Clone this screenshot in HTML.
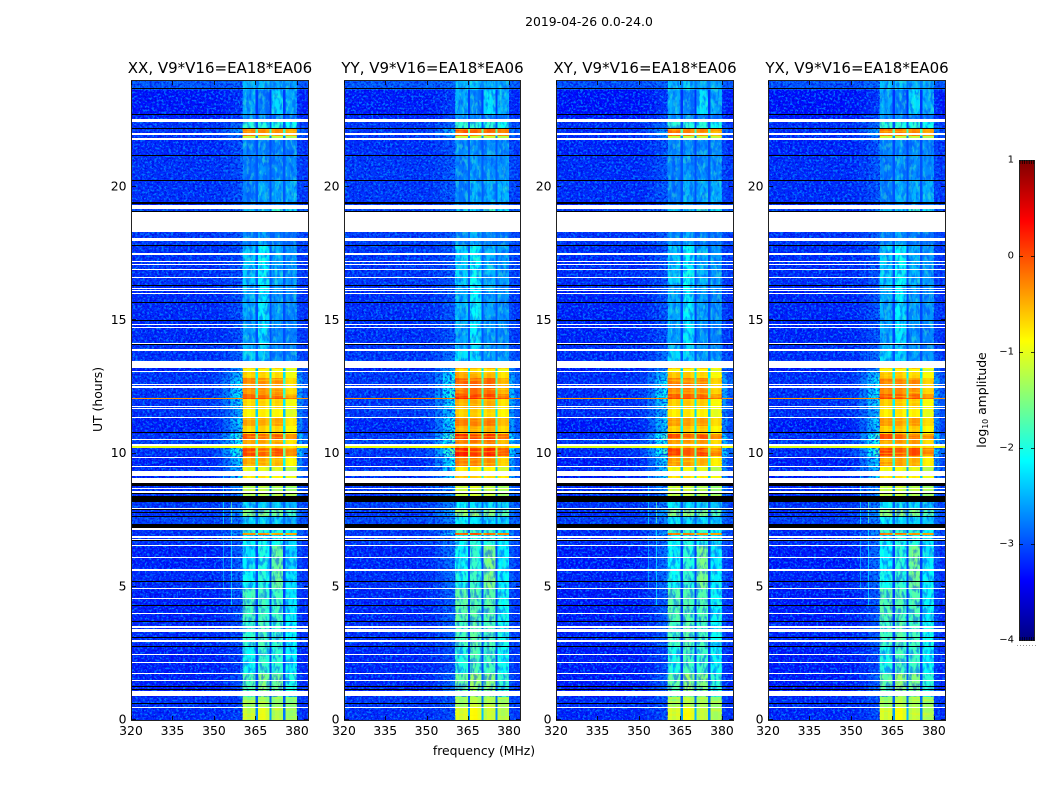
<!DOCTYPE html>
<html lang="en">
<head>
<meta charset="utf-8">
<title>2019-04-26 0.0-24.0</title>
<style>
html,body{margin:0;padding:0;background:#fff;width:1050px;height:800px;overflow:hidden}
svg{display:block}
text{font-family:"DejaVu Sans","Liberation Sans",sans-serif;fill:#000}
</style>
</head>
<body>
<svg id="chart" xmlns="http://www.w3.org/2000/svg" width="1050" height="800" viewBox="0 0 1050 800">
<defs>
<filter id="speckle-light" x="0" y="0" width="100%" height="100%" color-interpolation-filters="sRGB">
<feTurbulence type="fractalNoise" baseFrequency="0.42 0.5" numOctaves="2" seed="3"/>
<feColorMatrix values="0 0 0 0 0  0 0 0 0 0.55  0 0 0 0 1  8 0 0 0 -4"/>
</filter>
<filter id="speckle-dark" x="0" y="0" width="100%" height="100%" color-interpolation-filters="sRGB">
<feTurbulence type="fractalNoise" baseFrequency="0.42 0.5" numOctaves="2" seed="11"/>
<feColorMatrix values="0 0 0 0 0  0 0 0 0 0  0 0 0 0 0.85  0 8 0 0 -4"/>
</filter>
<filter id="band-dark" x="0" y="0" width="100%" height="100%" color-interpolation-filters="sRGB">
<feTurbulence type="fractalNoise" baseFrequency="0.3 0.12" numOctaves="3" seed="7"/>
<feColorMatrix values="0 0 0 0 0  0 0 0 0 0.3  0 0 0 0 1  5 0 0 0 -2.3"/>
</filter>
<filter id="band-light" x="0" y="0" width="100%" height="100%" color-interpolation-filters="sRGB">
<feTurbulence type="fractalNoise" baseFrequency="0.32 0.14" numOctaves="3" seed="23"/>
<feColorMatrix values="0 0 0 0 0.25  0 0 0 0 1  0 0 0 0 0.75  0 5 0 0 -2.6"/>
</filter>
<filter id="band-stripe" x="0" y="0" width="100%" height="100%" color-interpolation-filters="sRGB">
<feTurbulence type="fractalNoise" baseFrequency="0.03 0.55" numOctaves="2" seed="5"/>
<feColorMatrix values="0 0 0 0 1  0 0 0 0 0.95  0 0 0 0 0  6 0 0 0 -3.1"/>
</filter>
</defs>
<text x="589" y="26" font-size="12.4" text-anchor="middle">2019-04-26 0.0-24.0</text>
<text x="0" y="0" font-size="12.4" text-anchor="middle" transform="translate(102,399.5) rotate(-90)">UT (hours)</text>
<text x="484" y="755" font-size="12.4" text-anchor="middle">frequency (MHz)</text>
<text x="0" y="0" font-size="12.4" text-anchor="middle" transform="translate(986,400) rotate(-90)">log<tspan font-size="7.8" dy="2">10</tspan><tspan dy="-2"> amplitude</tspan></text>
<g id="panels"></g>
<g id="colorbar"></g>
</svg>
<script>
// Polarisation panels
const panelTitles = ["XX, V9*V16=EA18*EA06", "YY, V9*V16=EA18*EA06", "XY, V9*V16=EA18*EA06", "YX, V9*V16=EA18*EA06"];
const panelBandOffset = [0, 0.12, 0.08, 0.08];
const panelHotOffset = [0, 0.2, 0.05, 0.05];
const panelUpperOffset = [0, 0.05, 0.03, 0.03];
const panelBgOffset = [0, 0.03, -0.03, -0.03];

// Tick labels
const xTicks = [320, 335, 350, 365, 380];
const yTicks = [0, 5, 10, 15, 20];
const colorTicks = [1, 0, -1, -2, -3, -4];

// Frequency channel edges (MHz) and what each channel shows
const freqEdges = [320, 335, 345, 350, 353, 356, 358.5, 360.4,
  361.9, 363.4, 365, 365.7, 367.1, 368.6, 370, 370.6, 372, 373.5, 375, 375.7, 377, 378.5, 380, 382, 384];
const channelLeak = [0, 0, 0.03, 0.12, 0.4, 0.8, 1, null, null, null, null, null, null, null, null, null, null, null, null, null, null, null, 0.6, 0.25];
const channelSubband = [null, null, null, null, null, null, null, 0, 0, 0, 0, 1, 1, 1, 1, 2, 2, 2, 2, 3, 3, 3, null, null];
const channelIsGap = [0, 0, 0, 0, 0, 0, 0, 0, 0, 0, 1, 0, 0, 0, 1, 0, 0, 0, 1, 0, 0, 0, 0, 0];
const channelRipple = [0, 0, 0, 0, 0, 0, 0, 0.06, -0.05, 0.04, 0, 0.05, 0.08, -0.06, 0, -0.04, 0.07, 0.02, 0, 0.04, -0.03, 0.03, 0, 0];
const gapDepth = 1.5;

// Time rows: end hour of each row, then log10 amplitude [background, shoulder, sub1, sub2, sub3, sub4]
const rowEnds = [0.47, 0.88, 1.76, 2.76, 3.73, 4.97, 5.64, 6.55, 6.94, 7.0, 7.22, 7.37, 7.61, 7.94, 8.2, 8.8, 9.1, 9.14, 9.5, 9.9, 10.19, 10.34, 10.54, 10.75, 11.05, 11.32, 11.66, 12.05, 12.09, 12.22, 12.44, 12.85, 13.08, 13.19, 13.26, 13.9, 14.13, 15.03, 16.3, 17.84, 18.33, 19.19, 19.45, 20.28, 21.2, 21.76, 21.93, 22.2, 22.46, 22.7, 23.65, 24];
const rowLevels = [
  [-3.2, -3.1, -1.2, -1.05, -1.3, -1.4],
  [-3.15, -3.1, -1.5, -1.4, -1.45, -1.5],
  [-3.25, -3.0, -1.75, -1.5, -1.6, -2.0],
  [-3.25, -3.1, -2.1, -1.9, -1.95, -2.2],
  [-3.2, -3.0, -1.9, -1.8, -1.9, -2.15],
  [-3.25, -3.0, -1.8, -1.85, -1.85, -2.2],
  [-3.2, -2.9, -2.15, -2.0, -1.65, -2.25],
  [-3.25, -2.9, -2.25, -2.05, -1.65, -2.3],
  [-3.15, -2.9, -2.2, -2.1, -2.1, -2.3],
  [-3.15, -2.5, -0.3, -0.25, -0.4, -0.45],
  [-3.15, -2.8, -1.9, -2.0, -2.0, -2.2],
  [-3.15, -3.0, -2.5, -2.5, -2.5, -2.5],
  [-3.05, -2.8, -2.3, -2.4, -2.4, -2.5],
  [-3.15, -2.6, -1.5, -1.5, -1.6, -1.8],
  [-3.1, -2.8, -2.3, -2.4, -2.4, -2.5],
  [-3.15, -2.7, -1.3, -1.3, -1.4, -1.5],
  [-3.25, -2.5, -1.0, -1.0, -1.1, -1.2],
  [-3.25, -2.3, -0.8, -0.8, -0.9, -1.0],
  [-3.15, -2.4, -1.0, -1.05, -1.1, -1.3],
  [-3.25, -2.3, -0.45, -0.5, -0.55, -0.85],
  [-3.15, -1.9, 0.02, -0.15, -0.05, -0.3],
  [-1.0, -0.9, -0.7, -0.7, -0.7, -0.8],
  [-3.05, -2.1, -0.45, -0.45, -0.45, -0.75],
  [-3.15, -1.9, -0.05, -0.2, -0.1, -0.35],
  [-3.25, -2.4, -0.7, -0.7, -0.7, -0.9],
  [-3.25, -2.3, -0.45, -0.5, -0.45, -0.75],
  [-3.15, -2.5, -0.85, -0.85, -0.9, -1.05],
  [-3.15, -2.3, -0.7, -0.7, -0.7, -0.95],
  [-0.35, -0.35, 0.0, -0.05, -0.05, -0.2],
  [-3.15, -2.1, -0.15, -0.2, -0.2, -0.45],
  [-3.15, -2.2, -0.4, -0.4, -0.4, -0.7],
  [-3.15, -2.2, -0.3, -0.35, -0.35, -0.7],
  [-3.15, -2.4, -0.65, -0.7, -0.75, -0.95],
  [-3.25, -2.7, -1.0, -1.0, -1.0, -1.2],
  [-3.25, -2.6, -0.7, -0.7, -0.7, -0.9],
  [-3.15, -2.9, -2.4, -2.45, -2.7, -2.7],
  [-3.15, -3.0, -2.5, -2.4, -2.7, -2.75],
  [-3.2, -3.0, -2.6, -2.3, -2.7, -2.75],
  [-3.2, -3.0, -2.55, -2.25, -2.65, -2.7],
  [-3.15, -3.0, -2.4, -2.2, -2.55, -2.65],
  [-3.1, -2.95, -2.75, -2.6, -2.8, -2.85],
  [-3.05, -2.8, -2.5, -2.4, -1.9, -2.3],
  [-3.15, -3.0, -2.8, -2.8, -2.8, -2.8],
  [-3.15, -3.0, -2.8, -2.6, -2.6, -2.55],
  [-3.15, -3.0, -2.8, -2.7, -2.75, -2.7],
  [-3.2, -3.0, -2.75, -2.75, -2.75, -2.75],
  [-3.15, -2.8, -1.2, -1.25, -1.25, -1.3],
  [-3.15, -2.6, -0.25, -0.35, -0.35, -0.45],
  [-3.15, -2.9, -1.95, -2.0, -2.0, -2.1],
  [-3.25, -3.1, -2.7, -2.75, -2.85, -2.85],
  [-3.3, -3.15, -2.6, -2.8, -2.35, -2.55],
  [-2.95, -2.9, -2.5, -2.5, -2.6, -2.6]
];

// Flagged (blank) integrations, hours
const blankStart = [0.43, 0.88, 1.45, 1.74, 2.12, 2.42, 2.91, 2.98, 3.32, 3.46, 4.0, 4.52, 4.93, 5.57, 6.06, 6.55, 6.77, 6.85, 7.11, 7.17, 7.93, 8.55, 8.69, 8.91, 9.14, 9.51, 9.84, 10.27, 10.51, 11.32, 11.67, 11.74, 12.44, 12.51, 12.57, 13.04, 13.19, 13.26, 13.84, 14.13, 14.73, 14.84, 16.0, 16.1, 16.19, 16.59, 16.88, 17.07, 17.2, 17.47, 17.99, 18.33, 19.19, 21.76, 21.93, 22.46];
const blankEnd = [0.47, 1.07, 1.49, 1.78, 2.16, 2.46, 2.95, 3.02, 3.42, 3.52, 4.03, 4.56, 4.97, 5.65, 6.1, 6.58, 6.81, 6.92, 7.15, 7.2, 7.97, 8.61, 8.71, 9.1, 9.33, 9.53, 9.87, 10.34, 10.54, 11.36, 11.71, 11.78, 12.48, 12.54, 12.6, 13.08, 13.23, 13.49, 13.92, 14.16, 14.76, 14.88, 16.04, 16.13, 16.23, 16.64, 16.92, 17.11, 17.24, 17.54, 18.1, 19.08, 19.34, 21.84, 22.02, 22.57];

// Zero-amplitude (black) integrations, hours
const blackStart = [0.58, 1.11, 1.21, 2.72, 3.06, 3.7, 4.26, 5.2, 6.72, 7.22, 7.6, 7.75, 7.86, 8.21, 8.48, 8.8, 10.75, 14.09, 14.99, 15.63, 16.3, 17.8, 19.08, 19.38, 20.24, 21.18, 22.2, 22.7, 23.65];
const blackEnd = [0.62, 1.16, 1.26, 2.76, 3.1, 3.73, 4.3, 5.23, 6.75, 7.37, 7.64, 7.79, 7.9, 8.42, 8.54, 8.91, 10.79, 14.12, 15.03, 15.67, 16.34, 17.83, 19.12, 19.44, 20.28, 21.22, 22.23, 22.75, 23.7];

// Narrow interference streaks: frequency (MHz), start hour, end hour, level
const streakFreq = [353.2, 356.1, 353.2, 356.1];
const streakStart = [4.9, 4.3, 7.3, 7.4];
const streakEnd = [7.0, 7.2, 9.3, 8.2];
const streakLevel = [-2.5, -2.2, -2.2, -1.7];

const NS = "http://www.w3.org/2000/svg";
const panelLeft = [131, 344, 556, 768];
const panelWidth = [177, 176, 177, 177];
const plotTop = 80.5, plotBottom = 720;
const upperHour = 13.5;

function jet(v) {
  const t = Math.max(0, Math.min(1, (v + 4) / 5));
  const ramp = x => Math.max(0, Math.min(1, x));
  const r = ramp(Math.min(4 * t - 1.5, -4 * t + 4.5));
  const g = ramp(Math.min(4 * t - 0.5, -4 * t + 3.5));
  const b = ramp(Math.min(4 * t + 0.5, -4 * t + 2.5));
  return "rgb(" + Math.round(r * 255) + "," + Math.round(g * 255) + "," + Math.round(b * 255) + ")";
}
function yOf(hour) { return plotBottom - (plotBottom - plotTop) * hour / 24; }
function xOf(panel, freq) { return panelLeft[panel] + (freq - 320) * panelWidth[panel] / 64; }
function make(tag, attrs, parent) {
  const el = document.createElementNS(NS, tag);
  for (const k in attrs) el.setAttribute(k, attrs[k]);
  parent.appendChild(el);
  return el;
}
function cellLevel(panel, row, col) {
  const lv = rowLevels[row];
  const start = row === 0 ? 0 : rowEnds[row - 1];
  let offset = start >= upperHour ? panelUpperOffset[panel] : panelBandOffset[panel];
  if (lv[2] > -1.05) offset = panelHotOffset[panel];
  const bg = lv[0] + panelBgOffset[panel];
  if (channelLeak[col] !== null) return bg + channelLeak[col] * (lv[1] + offset - bg);
  const sub = lv[2 + channelSubband[col]] + offset;
  if (channelIsGap[col]) return Math.max(sub - gapDepth, bg + 0.2);
  return sub + channelRipple[col];
}

const panelsRoot = document.getElementById("panels");
panelTitles.forEach(function (title, p) {
  const g = make("g", {}, panelsRoot);
  
  
  const left = panelLeft[p], right = left + panelWidth[p];
  const bandStart = xOf(p, freqEdges[7]), bandEnd = xOf(p, freqEdges[22]);

  const clip = make("clipPath", { id: "clip-" + p }, g);
  make("rect", { x: left, y: 80, width: panelWidth[p], height: 640 }, clip);
  const data = make("g", { "clip-path": "url(#clip-" + p + ")", "shape-rendering": "crispEdges" }, g);

  function drawCell(r, c) {
    const start = r === 0 ? 0 : rowEnds[r - 1];
    const y1 = Math.round(yOf(rowEnds[r])), y0 = Math.round(yOf(start));
    const x0 = xOf(p, freqEdges[c]), x1 = xOf(p, freqEdges[c + 1]);
    const cell = make("rect", { x: x0, y: y1, width: x1 - x0 + 0.5, height: Math.max(1, y0 - y1), fill: jet(cellLevel(p, r, c)) }, data);
    
    
  }

  // heatmap cells
  rowEnds.forEach(function (end, r) {
    for (let c = 0; c < freqEdges.length - 1; c++) drawCell(r, c);
  });

  // mottled texture across the faint parts of the band, fine stripes across the bright parts
  rowEnds.forEach(function (end, r) {
    const lv = rowLevels[r];
    const start = r === 0 ? 0 : rowEnds[r - 1];
    const y1 = Math.round(yOf(end)), y0 = Math.round(yOf(start));
    if (y0 - y1 < 2) return;
    if ((lv[2] + lv[3] + lv[4] + lv[5]) / 4 > -1.5) {
      const stripe = make("rect", { x: bandStart, y: y1, width: bandEnd - bandStart, height: y0 - y1, fill: "#000", filter: "url(#band-stripe)", opacity: 0.4 }, data);
      
      
      return;
    }
    const darkPatch = make("rect", { x: bandStart, y: y1, width: bandEnd - bandStart, height: y0 - y1, fill: "#000", filter: "url(#band-dark)", opacity: 0.55 }, data);
    
    
    const lightPatch = make("rect", { x: bandStart, y: y1, width: bandEnd - bandStart, height: y0 - y1, fill: "#000", filter: "url(#band-light)", opacity: 0.4 }, data);
    
    
  });

  // fine channel-to-channel noise texture
  const noiseLeftLight = make("rect", { x: left, y: 80, width: bandStart - left, height: 640, fill: "#fff", filter: "url(#speckle-light)", opacity: 0.75 }, data);
  
  
  const noiseLeftDark = make("rect", { x: left, y: 80, width: bandStart - left, height: 640, fill: "#000", filter: "url(#speckle-dark)", opacity: 0.6 }, data);
  
  
  const noiseRightLight = make("rect", { x: bandEnd, y: 80, width: right - bandEnd, height: 640, fill: "#fff", filter: "url(#speckle-light)", opacity: 0.6 }, data);
  
  
  const noiseRightDark = make("rect", { x: bandEnd, y: 80, width: right - bandEnd, height: 640, fill: "#000", filter: "url(#speckle-dark)", opacity: 0.5 }, data);
  
  

  // restore the subband gaps and the broadband-bright rows above the textures
  rowEnds.forEach(function (end, r) {
    const brightRow = rowLevels[r][0] > -2;
    for (let c = 0; c < freqEdges.length - 1; c++) {
      if (channelIsGap[c] || (brightRow && channelLeak[c] !== null)) drawCell(r, c);
    }
  });

  // interference streaks
  if (p !== 1) {
    streakFreq.forEach(function (f, i) {
      const s = make("rect", { x: xOf(p, f), y: yOf(streakEnd[i]), width: 1, height: yOf(streakStart[i]) - yOf(streakEnd[i]), fill: jet(streakLevel[i]), opacity: 0.7 }, data);
      
      
    });
  }

  // zero rows, then flagged rows, snapped to whole pixels
  blackStart.forEach(function (t, i) {
    const b = make("rect", { x: left, y: Math.round(yOf(blackEnd[i])), width: panelWidth[p], height: Math.max(1, Math.round(yOf(t) - yOf(blackEnd[i]))), fill: "#000" }, data);
    
    
  });
  blankStart.forEach(function (t, i) {
    const b = make("rect", { x: left, y: Math.round(yOf(blankEnd[i])), width: panelWidth[p], height: Math.max(1, Math.round(yOf(t) - yOf(blankEnd[i]))), fill: "#fff" }, data);
    
    
  });

  // frame
  const frame = make("rect", { x: left + 0.5, y: 80.5, width: panelWidth[p], height: 640, fill: "none", stroke: "#222", "stroke-width": 1 }, g);
  
  

  // title
  const t = make("text", { x: (left + right) / 2 + 0.5, y: 73, "font-size": 15, "text-anchor": "middle" }, g);
  
  
  t.textContent = title;

  // x ticks
  xTicks.forEach(function (f) {
    const x = Math.round(xOf(p, f)) + 0.5;
    make("path", { d: "M" + x + " 720V716M" + x + " 81V85", stroke: "#000", "stroke-width": 0.8, fill: "none" }, g);
    const lab = make("text", { x: xOf(p, f), y: 735, "font-size": 12.4, "text-anchor": "middle" }, g);
    
    
    lab.textContent = f;
  });
  // y ticks
  yTicks.forEach(function (hr) {
    const y = Math.round(yOf(hr)) - 0.5;
    make("path", { d: "M" + (left + 1) + " " + y + "H" + (left + 5) + "M" + right + " " + y + "H" + (right - 4), stroke: "#000", "stroke-width": 0.8, fill: "none" }, g);
    const lab = make("text", { x: left - 4.5, y: yOf(hr) + 3.5, "font-size": 12.4, "text-anchor": "end" }, g);
    
    
    lab.textContent = hr;
  });
});

// colour bar
const cbRoot = document.getElementById("colorbar");
const cbLeft = 1019, cbRight = 1034, cbTop = 160, cbBottom = 640;
function cbY(v) { return cbBottom - (v + 4) / 5 * (cbBottom - cbTop); }
for (let i = 0; i < 240; i++) {
  const v = -4 + (i + 0.5) / 240 * 5;
  const seg = make("rect", { x: cbLeft, y: cbY(v) - 1.25, width: cbRight - cbLeft, height: 2.5, fill: jet(v), "shape-rendering": "crispEdges" }, cbRoot);
  
  
}
const cbFrame = make("rect", { x: cbLeft + 0.5, y: cbTop + 0.5, width: cbRight - cbLeft, height: cbBottom - cbTop, fill: "none", stroke: "#222", "stroke-width": 1 }, cbRoot);


colorTicks.forEach(function (v) {
  const y = Math.round(cbY(v)) + 0.5;
  if (v > -4 && v < 1) make("path", { d: "M" + cbLeft + " " + y + "h4M" + (cbRight + 1) + " " + y + "h-4", stroke: "#000", "stroke-width": 0.8 }, cbRoot);
  const lab = make("text", { x: 1014, y: cbY(v) + 2.5, "font-size": 10, "text-anchor": "end" }, cbRoot);
  
  
  lab.textContent = String(v).replace("-", "\u2212");
});
for (let i = 0; i < 7; i++) {
  const x = cbLeft + 1 + i * 2.3;
  make("path", { d: "M" + x + " " + cbTop + "v4M" + x + " " + (cbBottom + 1) + "v-4", stroke: "#000", "stroke-width": 0.7 }, cbRoot);
  make("rect", { x: cbLeft - 2 + i * 3, y: 645, width: 1, height: 1, fill: "#999" }, cbRoot);
}
</script>
</body>
</html>
